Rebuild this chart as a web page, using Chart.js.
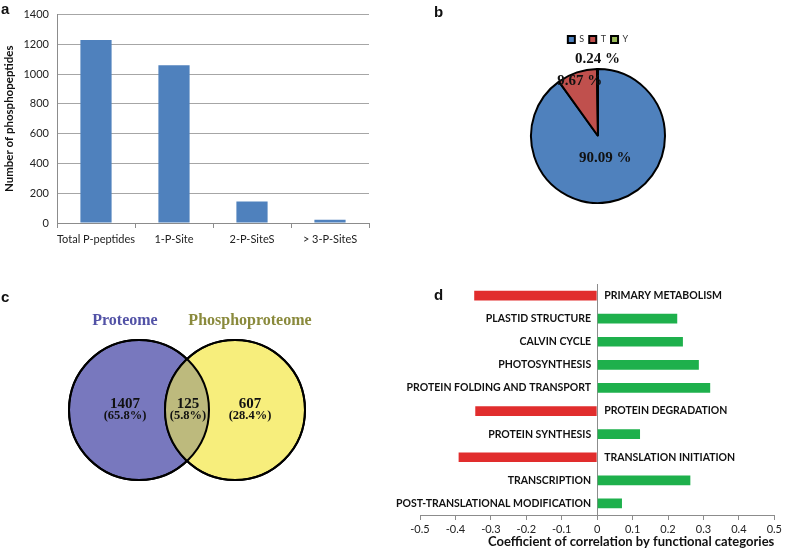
<!DOCTYPE html>
<html>
<head>
<meta charset="utf-8">
<script src="https://cdn.jsdelivr.net/npm/chart.js@4"></script>
<style>
  body { margin: 0; background: #fff; }
  #wrap { position: relative; width: 785px; height: 550px; }
  canvas, .tag { position: absolute; }
  .tag { font: bold 15px "Liberation Sans", Arial, sans-serif; color: #111; }
</style>
</head>
<body>
<div id="wrap">
  <canvas id="barChart" width="385" height="255" style="left:0;top:0"></canvas>
  <canvas id="pieChart" width="236" height="174" style="left:480px;top:30px"></canvas>
  <canvas id="vennChart" width="390" height="280" style="left:0;top:270px"></canvas>
  <canvas id="corrChart" width="395" height="280" style="left:390px;top:270px"></canvas>
  <div class="tag" style="left:1px;top:0">a</div>
  <div class="tag" style="left:434px;top:3px">b</div>
  <div class="tag" style="left:1px;top:288px">c</div>
  <div class="tag" style="left:434px;top:286px">d</div>
</div>
<script>
// panel a
const siteCategories = ['Total P-peptides', '1-P-Site', '2-P-SiteS', '> 3-P-SiteS'];
const siteCounts = [1230, 1060, 145, 22];
const countTicks = [0, 200, 400, 600, 800, 1000, 1200, 1400];

// panel b
const residues = ['S', 'T', 'Y'];
const residuePercents = [90.09, 9.67, 0.24];

// panel c
const vennSets = ['Proteome', 'Phosphoproteome'];
const vennCounts = [1407, 125, 607];
const vennPercents = ['65.8%', '5.8%', '28.4%'];

// panel d
const categories = [
    'PRIMARY METABOLISM',
    'PLASTID STRUCTURE',
    'CALVIN CYCLE',
    'PHOTOSYNTHESIS',
    'PROTEIN FOLDING AND TRANSPORT',
    'PROTEIN DEGRADATION',
    'PROTEIN SYNTHESIS',
    'TRANSLATION INITIATION',
    'TRANSCRIPTION',
    'POST-TRANSLATIONAL MODIFICATION'
];
const correlations = [-0.347, 0.226, 0.242, 0.287, 0.319, -0.344, 0.121, -0.391, 0.263, 0.07];
const corrTicks = [-0.5, -0.4, -0.3, -0.2, -0.1, 0, 0.1, 0.2, 0.3, 0.4, 0.5];

Chart.defaults.font.family = 'Lato, "Open Sans", sans-serif';
Chart.defaults.color = '#222';

const noUi = { legend: { display: false }, tooltip: { enabled: false } };

new Chart(document.getElementById('barChart'), {
    type: 'bar',
    data: {
        labels: siteCategories,
        datasets: [{
            data: siteCounts,
            backgroundColor: '#4F81BD',
            barPercentage: 0.4,
            categoryPercentage: 1
        }]
    },
    options: {
        responsive: false,
        animation: false,
        events: [],
        layout: { padding: { top: 11, right: 16 } },
        plugins: noUi,
        scales: {
            x: {
                grid: { offset: true, drawOnChartArea: false, tickLength: 5, color: '#8c8c8c' },
                border: { color: '#8c8c8c' },
                ticks: { font: { size: 11 }, padding: 5, maxRotation: 0, minRotation: 0, autoSkip: false },
                afterFit: s => { s.height = 32; }
            },
            y: {
                min: countTicks[0],
                max: countTicks[countTicks.length - 1],
                ticks: {
                    stepSize: countTicks[1] - countTicks[0],
                    font: { size: 11 },
                    padding: 8,
                    callback: v => String(v)
                },
                grid: { color: '#a6a6a6', drawTicks: false },
                border: { color: '#8c8c8c' },
                title: {
                    display: true,
                    text: 'Number of phosphopeptides',
                    color: '#111',
                    font: { size: 11.5, weight: 'bold' },
                    padding: { top: 2, bottom: 2 }
                },
                afterFit: s => { s.width = 57; }
            }
        }
    }
});

// give the legend some air above the pie
const legendGap = {
    id: 'legendGap',
    beforeLayout(chart) {
        const lg = chart.legend;
        if (!lg || lg._gapped) return;
        const fit = lg.fit;
        lg.fit = function () { fit.call(this); this.height += 14; };
        lg._gapped = true;
    }
};

const pieLabelRadius = [0.35, 0.87, 1.14];
const pieLabels = {
    id: 'pieLabels',
    afterDatasetsDraw(chart) {
        const ctx = chart.ctx;
        const arcs = chart.getDatasetMeta(0).data;
        ctx.save();
        ctx.font = 'bold 15px "Liberation Serif", "Times New Roman", serif';
        ctx.fillStyle = '#111';
        ctx.textAlign = 'center';
        ctx.textBaseline = 'middle';
        arcs.forEach((arc, i) => {
            const mid = (arc.startAngle + arc.endAngle) / 2;
            const r = arc.outerRadius * pieLabelRadius[i];
            ctx.fillText(residuePercents[i].toFixed(2) + ' %', arc.x + Math.cos(mid) * r, arc.y + Math.sin(mid) * r);
        });
        ctx.restore();
    }
};

new Chart(document.getElementById('pieChart'), {
    type: 'pie',
    data: {
        labels: residues,
        datasets: [{
            data: residuePercents,
            backgroundColor: ['#4F81BD', '#C0504D', '#9BBB59'],
            borderColor: '#000',
            borderWidth: 2
        }]
    },
    options: {
        responsive: false,
        animation: false,
        events: [],
        plugins: {
            legend: {
                position: 'top',
                labels: { boxWidth: 7, boxHeight: 7, padding: 5, font: { size: 9 }, color: '#333' }
            },
            tooltip: { enabled: false }
        }
    },
    plugins: [legendGap, pieLabels]
});

const vennOverlay = {
    id: 'vennOverlay',
    afterDatasetsDraw(chart) {
        const ctx = chart.ctx;
        const [a, b] = chart.getDatasetMeta(0).data;
        const ra = a.options.radius, rb = b.options.radius;
        ctx.save();
        ctx.beginPath();
        ctx.arc(a.x, a.y, ra, 0, Math.PI * 2);
        ctx.clip();
        ctx.beginPath();
        ctx.arc(b.x, b.y, rb, 0, Math.PI * 2);
        ctx.fillStyle = '#BDBA7D';
        ctx.fill();
        ctx.restore();

        ctx.save();
        ctx.lineWidth = 2;
        ctx.strokeStyle = '#000';
        [a, b].forEach(p => {
            ctx.beginPath();
            ctx.arc(p.x, p.y, p.options.radius, 0, Math.PI * 2);
            ctx.stroke();
        });

        const serif = '"Liberation Serif", "Times New Roman", serif';
        const xs = [a.x - 14, (a.x + b.x) / 2 + 1, b.x + 15];
        ctx.textAlign = 'center';
        ctx.textBaseline = 'middle';
        ctx.font = 'bold 16px ' + serif;
        ctx.fillStyle = '#5252A6';
        ctx.fillText(vennSets[0], xs[0], a.y - ra - 19);
        ctx.fillStyle = '#8A8A3C';
        ctx.fillText(vennSets[1], xs[2], b.y - rb - 19);
        ctx.fillStyle = '#111';
        vennCounts.forEach((n, i) => {
            ctx.font = 'bold 15px ' + serif;
            ctx.fillText(String(n), xs[i], a.y - 6);
            ctx.font = 'bold 12.5px ' + serif;
            ctx.fillText('(' + vennPercents[i] + ')', xs[i], a.y + 6);
        });
        ctx.restore();
    }
};

new Chart(document.getElementById('vennChart'), {
    type: 'bubble',
    data: {
        datasets: [{
            data: vennSets.map((s, i) => ({ x: i, y: 0, r: 70 })),
            backgroundColor: ['#7878BE', '#F7EE7C'],
            borderColor: '#000',
            borderWidth: 2,
            clip: false
        }]
    },
    options: {
        responsive: false,
        animation: false,
        events: [],
        layout: { padding: { left: 139, right: 155, top: 12 } },
        plugins: noUi,
        scales: {
            x: { display: false, min: 0, max: 1 },
            y: { display: false, min: -1, max: 1 }
        }
    },
    plugins: [vennOverlay]
});

const categoryLabels = {
    id: 'categoryLabels',
    afterDatasetsDraw(chart) {
        const ctx = chart.ctx;
        const x0 = chart.scales.x.getPixelForValue(0);
        ctx.save();
        ctx.font = 'bold 10.5px Lato, "Open Sans", sans-serif';
        ctx.fillStyle = '#111';
        ctx.textBaseline = 'middle';
        chart.getDatasetMeta(0).data.forEach((bar, i) => {
            if (correlations[i] >= 0) {
                ctx.textAlign = 'right';
                ctx.fillText(categories[i], x0 - 6, bar.y);
            } else {
                ctx.textAlign = 'left';
                ctx.fillText(categories[i], x0 + 7, bar.y);
            }
        });
        ctx.restore();
    }
};

new Chart(document.getElementById('corrChart'), {
    type: 'bar',
    data: {
        labels: categories,
        datasets: [{
            data: correlations,
            backgroundColor: correlations.map(v => v < 0 ? '#E12D2D' : '#1EB04C'),
            barPercentage: 0.42,
            categoryPercentage: 1
        }]
    },
    options: {
        indexAxis: 'y',
        responsive: false,
        animation: false,
        events: [],
        layout: { padding: { left: 30, right: 10, top: 14 } },
        plugins: noUi,
        scales: {
            x: {
                min: corrTicks[0],
                max: corrTicks[corrTicks.length - 1],
                ticks: {
                    stepSize: 0.1,
                    font: { size: 11 },
                    padding: 3,
                    callback: v => String(Math.round(v * 10) / 10)
                },
                grid: {
                    color: c => (c.tick && Math.abs(c.tick.value) < 1e-9) ? '#8c8c8c' : 'rgba(0,0,0,0)',
                    tickColor: '#8c8c8c',
                    tickLength: 5
                },
                border: { color: '#8c8c8c' },
                title: {
                    display: true,
                    text: 'Coefficient of correlation by functional categories',
                    align: 'end',
                    color: '#111',
                    font: { size: 13, weight: 'bold' },
                    padding: { top: 2, bottom: 0 }
                },
                afterFit: s => { s.height = 35; }
            },
            y: { display: false }
        }
    },
    plugins: [categoryLabels]
});
</script>
</body>
</html>
